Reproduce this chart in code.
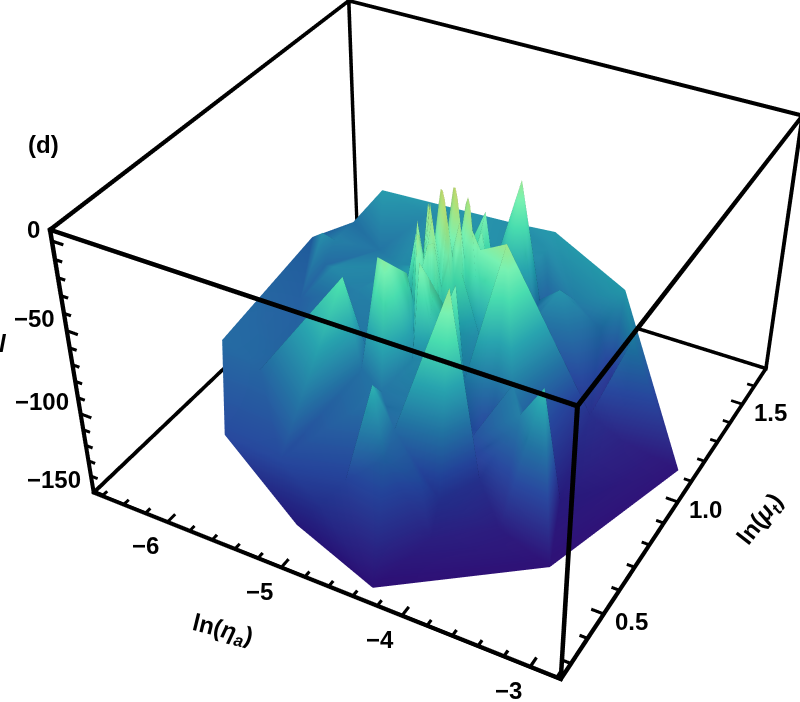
import numpy as np, plotly.graph_objects as go

# Sampled points of the surface: ln(eta_a), ln(mu_t), l
ln_eta=[-6.22,-5.76,-5.04,-4.31,-3.30,-2.89,-3.41,-3.62,-4.43,-4.84,
-5.16,-5.53,-5.94,-6.15,-6.43,-4.11,-3.74,-3.48,-3.36,-3.62,
-4.86,-4.61,-4.75,-4.25,-4.21,-4.08,-3.52,-3.75,-4.23,-4.28,
-4.49,-4.46,-4.01,-4.46,-4.15,-3.95,-4.36,-4.40,-4.58,-4.73,
-4.61,-5.21,-4.98,-4.87,-4.79,-5.55,-4.70,-5.37,-6.11,-6.06,
-6.06,-5.81,-5.73,-4.76,-5.16,-4.65,-5.02,-4.61,-4.81,-4.93,
-4.65,-4.08,-3.75,-3.64,-4.29,-5.67,-5.80,-6.04,-5.25,-4.24,
-4.14,-4.48,-3.99,-4.54,-4.14,-5.07,-5.24,-5.18,-4.96,-4.82,
-4.70,-4.40,-4.28,-4.59,-4.65,-4.69,-4.43,-4.31,-5.01,-4.54,
-4.56,-5.04,-4.39,-4.59,-4.37,-4.42,-4.71,-4.52]
ln_mu=[0.675,0.420,0.348,0.287,0.585,1.108,1.168,1.282,1.455,1.485,
1.452,1.414,1.409,1.360,1.284,0.470,0.607,0.784,1.087,1.085,
0.369,0.501,0.434,0.671,0.723,0.811,0.679,0.719,1.269,1.184,
1.144,1.310,1.264,1.239,0.919,0.825,0.929,0.950,1.108,1.094,
0.951,0.733,0.774,0.742,0.658,1.004,0.772,1.140,1.162,1.138,
1.197,1.037,1.252,0.843,1.077,0.782,1.031,0.825,0.873,0.854,
0.880,1.215,1.238,1.241,1.252,0.707,0.628,0.981,0.404,0.503,
0.542,0.473,0.666,0.564,0.713,0.728,0.744,0.819,0.903,0.924,
1.260,1.061,1.118,1.184,1.070,1.320,1.405,0.801,0.892,0.776,
0.862,0.866,0.685,0.798,0.788,0.766,0.867,0.926]
l_value=[-95,-112,-140,-150,-150,-148,-85,-72,-72,-78,
-75,-80,-72,-92,-100,-140,-142,-140,-138,-128,
-125,-62,-115,-18,-105,-118,-58,-85,-115,-95,
-92,-80,-85,-20,-18,-85,-80,-30,-28,-55,
-70,-40,-28,-25,-90,-85,-82,-80,-78,-95,
-85,-80,-90,-18,-70,-25,-70,-50,-78,-85,
-75,-75,-95,-125,-90,-98,-98,-100,-112,-110,
-125,-100,-125,-95,-110,-92,-95,-90,-82,-78,
-78,-90,-100,-80,-72,-78,-78,-88,-88,-78,
-80,-92,-85,-35,-32,-45,-25,-30]
# Dense central cluster of narrow peaks
peak_eta=[-4.91,-4.85,-4.79,-4.73,-4.67,-4.61,-4.55,-4.49]
peak_mu=[.845,.875,.905,.935,.965,.995,1.025,1.055]
peak_l=[[-75,-42,-70,-38,-72,-35,-68,-60],[-48,-60,-22,-50,-24,-48,-30,-72],[-65,-18,-42,-14,-40,-12,-45,-40],[-30,-45,-10,-38,-6,-35,-16,-62],[-60,-14,-36,-5,-32,-7,-40,-22],[-28,-42,-8,-34,-5,-35,-13,-60],[-62,-20,-40,-9,-36,-12,-42,-30],[-75,-55,-30,-58,-20,-60,-35,-75]]
# Axis limits and ticks
x_range=(-6.68,-2.77); y_range=(0.24,1.70); z_range=(-151.,6.)
x_major=[-6,-5,-4,-3]; y_major=[.5,1.,1.5]; z_major=[0,-50,-100,-150]
x_minor=[v/10 for v in range(-66,-27,2) if v%10]
y_minor=[v/10 for v in range(3,18) if v%5]
z_minor=[v for v in range(-140,1,10) if v%50]

# Page: the scene is larger than the window so that its perspective matches the reference
CW,CH=1600,1466; OX,OY=355,334
EYE=np.array([1.3167,-2.4078,1.9812]); CENTER=(0.8642,-1.5792,1.2213); UP=(-0.1604,0.2925,1)
AY,AZ=0.9924,0.6048

xs=list(ln_eta); ys=list(ln_mu); zs=[float(v) for v in l_value]
for i,m in enumerate(peak_mu):
    for j,e in enumerate(peak_eta):
        xs.append(e); ys.append(m); zs.append(float(peak_l[i][j]))

fig=go.Figure(go.Mesh3d(x=xs,y=ys,z=zs,intensity=zs,delaunayaxis='z',showscale=False,cmin=-151,cmax=0,flatshading=False,
 lighting=dict(ambient=.6,diffuse=.75,specular=.15,roughness=.5,fresnel=.1),lightposition=dict(x=-5000,y=-500,z=3000),hoverinfo='skip',
 colorscale=[[0,'#27086e'],[.25,'#1f3f95'],[.4,'#1a6a9a'],[.55,'#1e9aa5'],[.7,'#3fd3a5'],[.8,'#6fe8a8'],[.92,'#a5d870'],[1,'#c8c860']]))

X0,X1=x_range; Y0,Y1=y_range; Z0,Z1=z_range
mid=np.array([(X0+X1)/2,(Y0+Y1)/2,(Z0+Z1)/2])
unit=np.array([X1-X0,(Y1-Y0)/AY,(Z1-Z0)/AZ])
LX=[];LY=[];LZ=[];LI=[];LJ=[];LK=[]
def seg(a,b,w):
    # a thin camera-facing ribbon between two data points
    na=(np.array(a,float)-mid)/unit; nb=(np.array(b,float)-mid)/unit
    d=nb-na; d=d/np.linalg.norm(d)
    n_=np.cross(d,EYE-(na+nb)/2); n_=n_/np.linalg.norm(n_)
    n=len(LX)
    for q in (na-d*w+n_*w,na-d*w-n_*w,nb+d*w-n_*w,nb+d*w+n_*w):
        r=q*unit+mid
        LX.append(r[0]);LY.append(r[1]);LZ.append(r[2])
    for t in ((0,1,2),(0,2,3)):
        LI.append(n+t[0]);LJ.append(n+t[1]);LK.append(n+t[2])
WB=.0038; WT=.0028
for a in (X0,X1):
    for b in (Y0,Y1): seg((a,b,Z0),(a,b,Z1),WB)
for a in (Y0,Y1):
    for b in (Z0,Z1): seg((X0,a,b),(X1,a,b),WB)
for a in (X0,X1):
    for b in (Z0,Z1): seg((a,Y0,b),(a,Y1,b),WB)
LM=.022; Lm=.013
for lst,l in ((x_major,LM),(x_minor,Lm)):
    for v in lst: seg((v,Y0,Z0),(v,Y0+l*unit[1],Z0),WT)
for lst,l in ((y_major,LM),(y_minor,Lm)):
    for v in lst: seg((X1,v,Z0),(X1-l*unit[0],v,Z0),WT)
for lst,l in ((z_major,LM),(z_minor,Lm)):
    for v in lst: seg((X0,Y0,v),(X0+l*unit[0],Y0,v),WT)
fig.add_trace(go.Mesh3d(x=LX,y=LY,z=LZ,i=LI,j=LJ,k=LK,color='black',flatshading=True,hoverinfo='skip',lighting=dict(ambient=1,diffuse=0,specular=0,fresnel=0)))

F=dict(family='Liberation Sans',size=24,color='black',weight='bold')
sa=[]
for v in x_major: sa.append(dict(x=v,y=Y0,z=Z0,text='−%d'%abs(v),showarrow=False,xshift=-22,yshift=-24,font=F))
for v in y_major: sa.append(dict(x=X1,y=v,z=Z0,text='%.1f'%v,showarrow=False,xshift=28,yshift=-8,font=F))
for v in z_major: sa.append(dict(x=X0,y=Y0,z=v,text=('−%d'%abs(v)) if v else '0',showarrow=False,xanchor='right',xshift=-10,yshift=12,font=F))
PX=lambda u:(u+OX)/CW
PY=lambda v:1-(v+OY)/CH
A=dict(xref='paper',yref='paper',showarrow=False,xanchor='center',yanchor='middle')
ann=[dict(text='(d)',x=PX(43),y=PY(144),font=F,**A),
 dict(text='ln(<i>η</i><sub><i>a</i></sub>)',x=PX(222),y=PY(630),textangle=14,font=F,**A),
 dict(text='ln(<i>μ</i><sub><i>t</i></sub>)',x=PX(760),y=PY(520),textangle=-52,font=F,**A),
 dict(text='<i>l</i>',x=PX(3),y=PY(343),font=F,**A)]
PAD=.03; S=1+2*PAD
padr=lambda r:[r[0]-PAD*(r[1]-r[0]),r[1]+PAD*(r[1]-r[0])]
ax=lambda r:dict(range=padr(r),visible=False)
fig.update_layout(width=CW,height=CH,margin=dict(l=0,r=0,t=0,b=0),showlegend=False,paper_bgcolor='white',annotations=ann,
 scene=dict(domain=dict(x=[0,1],y=[0,1]),xaxis=ax(x_range),yaxis=ax(y_range),zaxis=ax(z_range),aspectmode='manual',aspectratio=dict(x=S,y=AY*S,z=AZ*S),annotations=sa,
 camera=dict(eye=dict(x=EYE[0],y=EYE[1],z=EYE[2]),center=dict(x=CENTER[0],y=CENTER[1],z=CENTER[2]),up=dict(x=UP[0],y=UP[1],z=UP[2]))))
post="var g=document.getElementById('{plot_id}');document.documentElement.style.overflow='hidden';document.body.style.overflow='hidden';g.style.position='absolute';g.style.left='-%dpx';g.style.top='-%dpx';"%(OX,OY)
fig.write_html('out.html',post_script=post)
